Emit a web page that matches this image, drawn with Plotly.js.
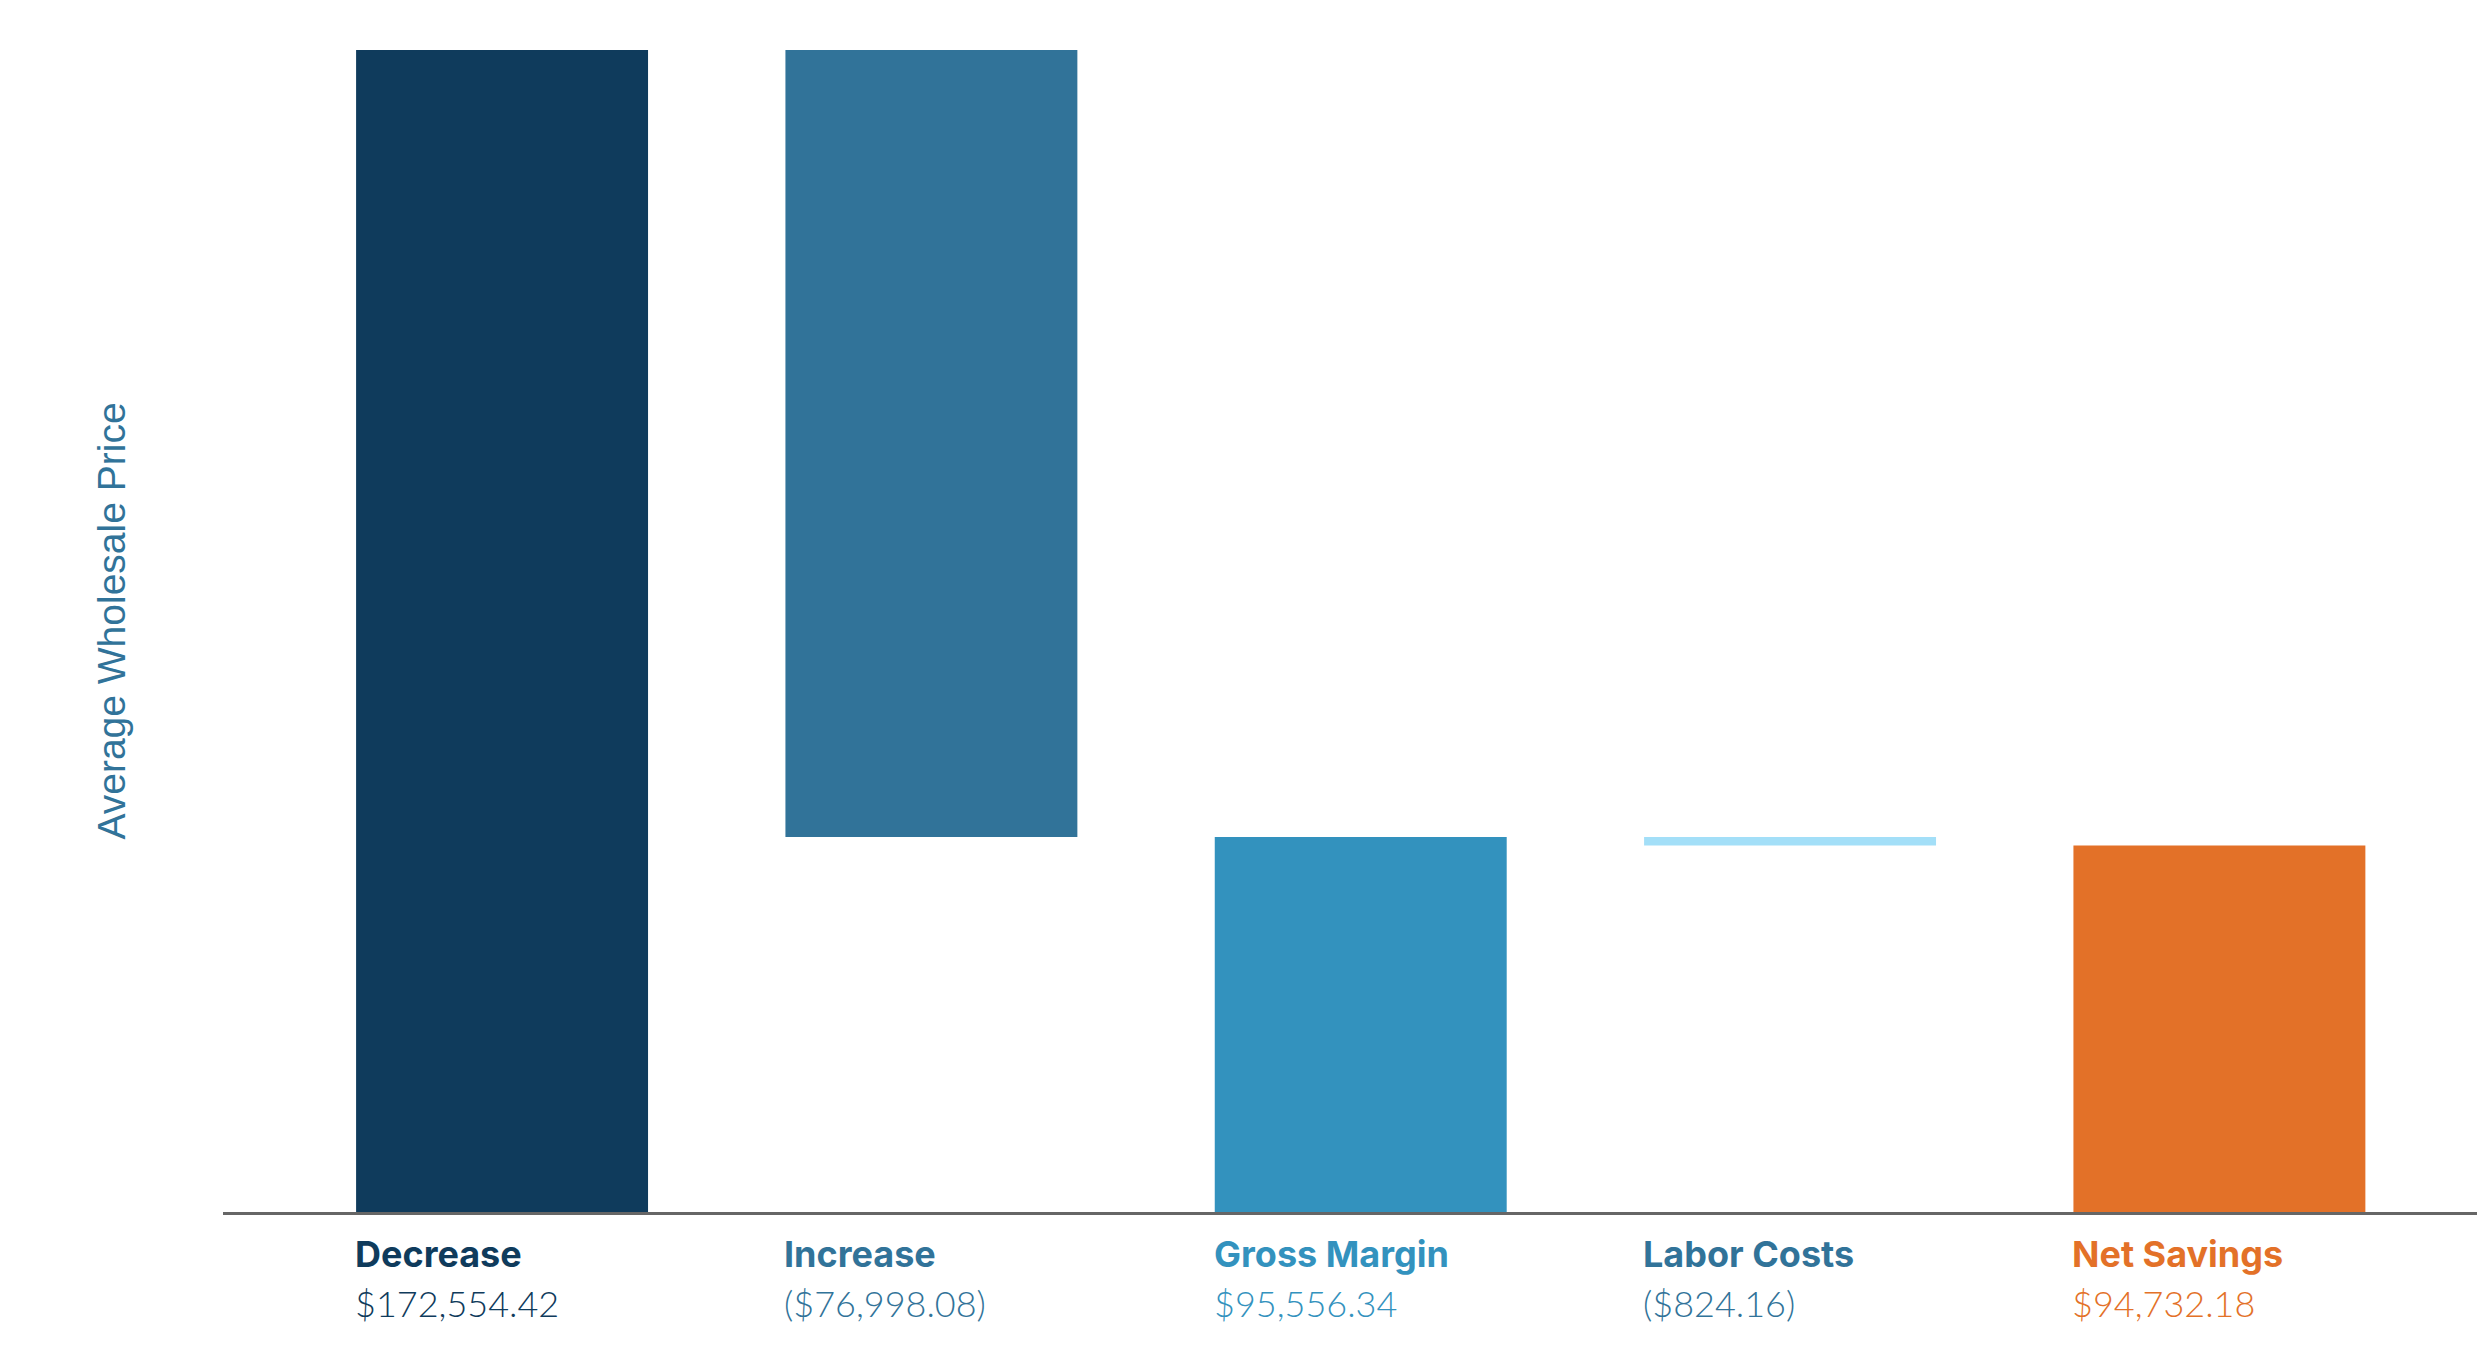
<!DOCTYPE html>
<html>
<head>
<meta charset="utf-8">
<script src="https://cdn.plot.ly/plotly-3.0.1.min.js"></script>
<style>html,body{margin:0;padding:0;background:#fff;}#chart{width:2477px;height:1353px;}</style>
</head>
<body>
<div id="chart"></div>
<script>
// ---- data ----
const categories = ['Decrease', 'Increase', 'Gross Margin', 'Labor Costs', 'Net Savings'];
const values = [172554.42, -76998.08, 95556.34, -824.16, 94732.18];
const measures = ['absolute', 'relative', 'total', 'relative', 'total'];
const barColors = ['#0f3b5c', '#317399', '#3392be', '#a3dff8', '#e37128'];
const labelColors = ['#0f3b5c', '#317399', '#3392be', '#317399', '#e37128'];
const yTitle = 'Average Wholesale Price';

// ---- build waterfall bases ----
let running = 0;
const bases = [], heights = [];
values.forEach((v, i) => {
  if (measures[i] === 'relative') {
    const next = running + v;
    bases.push(Math.min(running, next));
    heights.push(Math.abs(v));
    running = next;
  } else {
    bases.push(0);
    heights.push(v);
    running = v;
  }
});

function fmt(v) {
  const s = '$' + Math.abs(v).toLocaleString('en-US', {minimumFractionDigits: 2, maximumFractionDigits: 2});
  return v < 0 ? '(' + s + ')' : s;
}

const barWidth = 0.68;
const xIdx = categories.map((c, i) => i);

const trace = {
  type: 'bar',
  x: xIdx,
  y: heights,
  base: bases,
  width: barWidth,
  marker: {color: barColors, line: {width: 0}},
  hoverinfo: 'skip'
};

const annotations = [];
categories.forEach((c, i) => {
  annotations.push({
    xref: 'x', yref: 'paper', x: i - barWidth / 2, y: 0,
    xanchor: 'left', yanchor: 'middle', yshift: -42, xshift: -3, showarrow: false,
    text: '<b>' + c + '</b>',
    font: {family: 'Inter, sans-serif', size: 36, color: labelColors[i]}
  });
  annotations.push({
    xref: 'x', yref: 'paper', x: i - barWidth / 2, y: 0,
    xanchor: 'left', yanchor: 'middle', yshift: -91, xshift: -3, showarrow: false,
    text: fmt(values[i]),
    font: {family: 'Lato, sans-serif', size: 36, color: labelColors[i], weight: 300}
  });
});

const layout = {
  width: 2477, height: 1353,
  margin: {l: 223, r: 0, t: 30, b: 141},
  paper_bgcolor: '#ffffff', plot_bgcolor: '#ffffff',
  showlegend: false,
  bargap: 0.32,
  xaxis: {
    range: [-0.65, 4.6], showgrid: false, zeroline: false,
    showticklabels: false, ticks: '', fixedrange: true,
    showline: true, linecolor: '#666666', linewidth: 3
  },
  yaxis: {
    range: [58870, 174500], showgrid: false, zeroline: false,
    showticklabels: false, ticks: '', showline: false,
    title: {text: yTitle, standoff: 84, font: {family: '"Liberation Sans", Arial, sans-serif', size: 39, color: '#317399'}}
  },
  annotations: annotations
};

Plotly.newPlot('chart', [trace], layout, {displayModeBar: false, staticPlot: true});
</script>
</body>
</html>
